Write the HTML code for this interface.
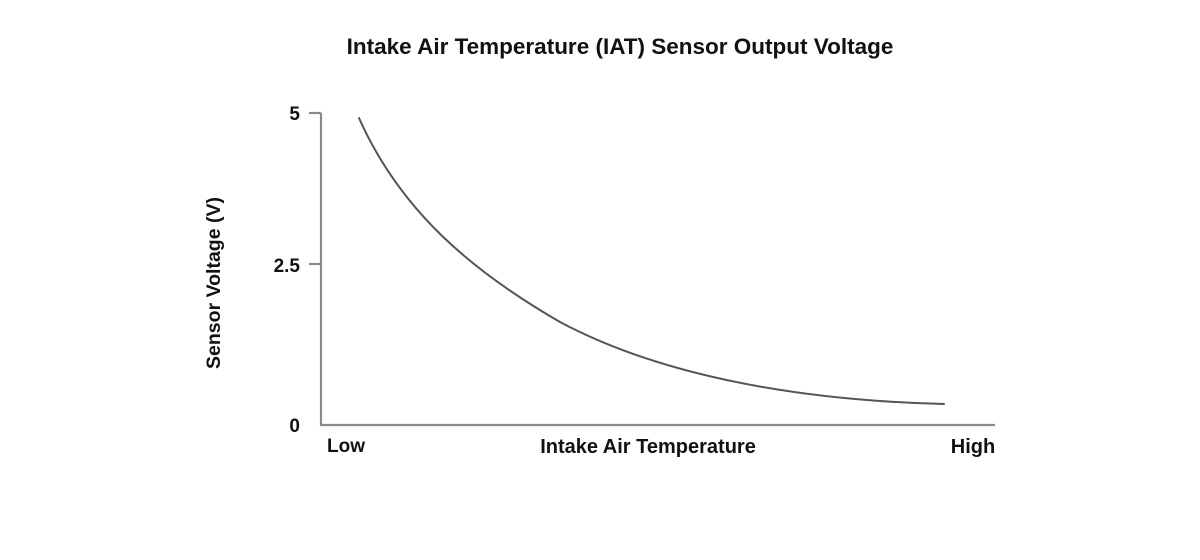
<!DOCTYPE html>
<html><head><meta charset="utf-8"><style>
html,body{margin:0;padding:0;background:#fff;}
svg{display:block;}
text{font-family:"Liberation Sans",Arial,sans-serif;font-weight:bold;fill:#111;}
</style></head><body>
<svg width="1200" height="560" viewBox="0 0 1200 560" xmlns="http://www.w3.org/2000/svg">
<text x="620" y="54" font-size="22.5" text-anchor="middle">Intake Air Temperature (IAT) Sensor Output Voltage</text>
<text transform="translate(220,283) rotate(-90)" font-size="19.5" text-anchor="middle">Sensor Voltage (V)</text>
<g stroke="#8a8a8a" stroke-width="2.2" fill="none">
<line x1="321" y1="113" x2="321" y2="425"/>
<line x1="320" y1="425" x2="995" y2="425"/>
<line x1="309" y1="113" x2="321" y2="113"/>
<line x1="309" y1="264" x2="321" y2="264"/>
</g>
<text x="300" y="120" font-size="19" text-anchor="end">5</text>
<text x="300" y="272" font-size="19" text-anchor="end">2.5</text>
<text x="300" y="432" font-size="19" text-anchor="end">0</text>
<text x="346" y="452" font-size="19" text-anchor="middle">Low</text>
<text x="648" y="453" font-size="20" text-anchor="middle">Intake Air Temperature</text>
<text x="973" y="453" font-size="20" text-anchor="middle">High</text>
<path fill="none" stroke="#555" stroke-width="2" stroke-linecap="round"
d="M359,118 C400,210 470,270 560,322 C650,370 780,400 944,404"/>
</svg>
</body></html>
